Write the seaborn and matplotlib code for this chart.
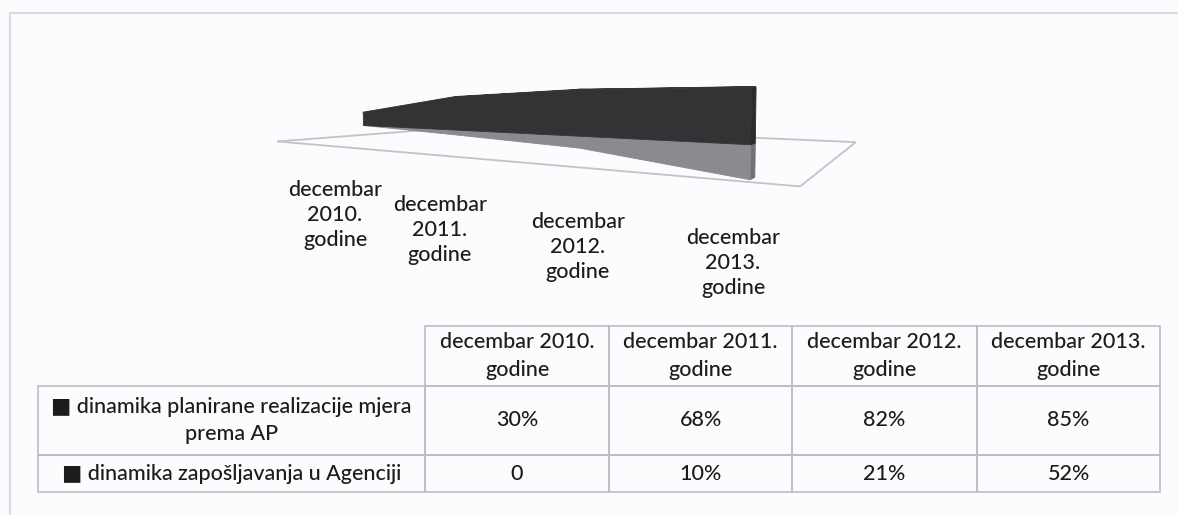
import numpy as np
import pandas as pd
import matplotlib
matplotlib.use("Agg")
import matplotlib.pyplot as plt
import seaborn as sns
from mpl_toolkits.mplot3d import proj3d
from mpl_toolkits.mplot3d.art3d import Poly3DCollection, Line3DCollection

# ---------------- data ----------------
categories = ["decembar 2010. godine", "decembar 2011. godine",
              "decembar 2012. godine", "decembar 2013. godine"]
series_names = ["dinamika planirane realizacije mjera prema AP",
                "dinamika zapošljavanja u Agenciji"]
planned = [0.30, 0.68, 0.82, 0.85]
employment = [0.00, 0.10, 0.21, 0.52]
planned_labels = ["30%", "68%", "82%", "85%"]
employment_labels = ["0", "10%", "21%", "52%"]

# ---------------- style ----------------
sns.set_theme(style="white")
plt.rcParams["font.family"] = ["Lato", "DejaVu Sans"]

W, H = 1178, 515
fig = plt.figure(figsize=(W / 100, H / 100), dpi=100)
fig.patch.set_facecolor("#fcfcfe")

DARK_FRONT = "#313335"
DARK_TOP = "#36383b"
DARK_SIDE = "#2a2c2e"
GRAY_FRONT = "#898b90"
GRAY_SIDE = "#707277"
FLOOR_EDGE = "#c2c3c7"
TXT = "#1c1c1c"

# ---------------- 3D area chart ----------------
ax3 = fig.add_axes([0.2, 0.0, 0.5, 0.5 * W / H], projection="3d")
ax3.set_proj_type("persp", focal_length=0.17)
ax3.view_init(elev=2.5, azim=-58)
ax3.set_box_aspect((6.0, 3.5, 0.78), zoom=1.0)
ax3.set_axis_off()
ax3.patch.set_alpha(0)
ax3.computed_zorder = False

x = np.arange(len(categories), dtype=float)
x_lo, x_hi = -0.5, 3.5
floor_x = (-0.55, 3.3)
z_floor = -0.38
ax3.set_xlim(x_lo, x_hi)
ax3.set_ylim(0, 1)
ax3.set_zlim(-0.55, 1.0)

fx0, fx1 = floor_x
floor = [[(fx0, 0, z_floor), (fx1, 0, z_floor)], [(fx1, 0, z_floor), (fx1, 1, z_floor)],
         [(fx1, 1, z_floor), (fx0, 1, z_floor)], [(fx0, 1, z_floor), (fx0, 0, z_floor)]]
fl = Line3DCollection(floor, colors=FLOOR_EDGE, linewidths=1.3, zorder=0)
fl.set_clip_on(False)
ax3.add_collection3d(fl)

y0, y1 = 0.16, 0.20


def add_poly(polys, color, z):
    pc = Poly3DCollection(polys, facecolors=color, edgecolors=color, linewidths=0.6, zorder=z)
    pc.set_clip_on(False)
    ax3.add_collection3d(pc)


def slab(vals, sign, c_front, c_top, c_side, z):
    v = sign * np.asarray(vals, dtype=float)
    front = [(x[i], y0, v[i]) for i in range(len(v))] + [(x[-1], y0, 0), (x[0], y0, 0)]
    side = [(x[-1], y0, 0), (x[-1], y1, 0), (x[-1], y1, v[-1]), (x[-1], y0, v[-1])]
    if c_top is not None:
        tops = [[(x[i], y0, v[i]), (x[i + 1], y0, v[i + 1]),
                 (x[i + 1], y1, v[i + 1]), (x[i], y1, v[i])] for i in range(len(v) - 1)]
        add_poly(tops, c_top, z)
    add_poly([side], c_side, z)
    add_poly([front], c_front, z + 0.1)


slab(employment, -1, GRAY_FRONT, None, GRAY_SIDE, 2)
slab(planned, 1, DARK_FRONT, DARK_TOP, DARK_SIDE, 3)

# place the 3D axes square so the series baseline sits in the chart area of the page
fig.canvas.draw()


def to_px(X, Y, Z):
    xs, ys, _ = proj3d.proj_transform(np.atleast_1d(X), np.atleast_1d(Y),
                                      np.atleast_1d(Z), ax3.get_proj())
    d = ax3.transData.transform(np.column_stack([xs, ys]))
    return d[:, 0], H - d[:, 1]


bb = ax3.get_position()
S = bb.width * W
C = np.array([(bb.x0 + bb.width / 2) * W, H - (bb.y0 + bb.height / 2) * H])
pax, pay = to_px(x[0], y0, 0)
pbx, pby = to_px(x[-1], y0, 0)
anchor = np.array([363.0, 125.0])
right_x = 750.0
s = (right_x - anchor[0]) / (pbx[0] - pax[0])
C2 = anchor - s * (np.array([pax[0], pay[0]]) - C)
S2 = S * s
ax3.set_position([(C2[0] - S2 / 2) / W, 1 - (C2[1] + S2 / 2) / H, S2 / W, S2 / H])

# ---------------- overlay (labels, table, frame) ----------------
ov = fig.add_axes([0, 0, 1, 1])
ov.set_xlim(0, W)
ov.set_ylim(H, 0)
ov.axis("off")
ov.patch.set_alpha(0)

ov.plot([10, W], [13, 13], color="#dcdce0", lw=1.5)
ov.plot([10, 10], [13, H], color="#dcdce0", lw=1.5)

FS = 15.5
label_pos = [(335, 180), (440, 195), (578, 212), (733, 228)]
for cat, (lx, ly) in zip(categories, label_pos):
    ov.text(lx, ly, "\n".join(cat.split(" ")), ha="center", va="top", fontsize=FS,
            color=TXT, linespacing=1.3, fontweight="medium")

# data table
row_labels = ["■ dinamika planirane realizacije mjera\nprema AP",
              "■ dinamika zapošljavanja u Agenciji"]
col_labels = [""] + [c.rsplit(" ", 1)[0] + "\n" + c.rsplit(" ", 1)[1] for c in categories]
cell_text = [[row_labels[0]] + planned_labels, [row_labels[1]] + employment_labels]

col_px = [38, 425, 609, 792, 977, 1160]
row_px = [326, 386, 455, 492]
widths = np.diff(col_px) / W
tbl = ov.table(cellText=cell_text, colLabels=col_labels, colWidths=list(widths),
               cellLoc="center", bbox=[col_px[0] / W, 1 - row_px[-1] / H,
                                       (col_px[-1] - col_px[0]) / W,
                                       (row_px[-1] - row_px[0]) / H])
tbl.auto_set_font_size(False)
heights = np.diff(row_px)
for (r, c), cell in tbl.get_celld().items():
    cell.set_height(heights[r] / H)
    cell.set_edgecolor("#bdbdc2")
    cell.set_linewidth(1.2)
    cell.set_facecolor("none")
    t = cell.get_text()
    t.set_fontsize(FS)
    t.set_color(TXT)
    t.set_fontweight("medium")
    t.set_linespacing(1.45)
    if r == 0 and c == 0:
        cell.visible_edges = ""

fig.savefig("out.png", dpi=100, facecolor=fig.get_facecolor())
